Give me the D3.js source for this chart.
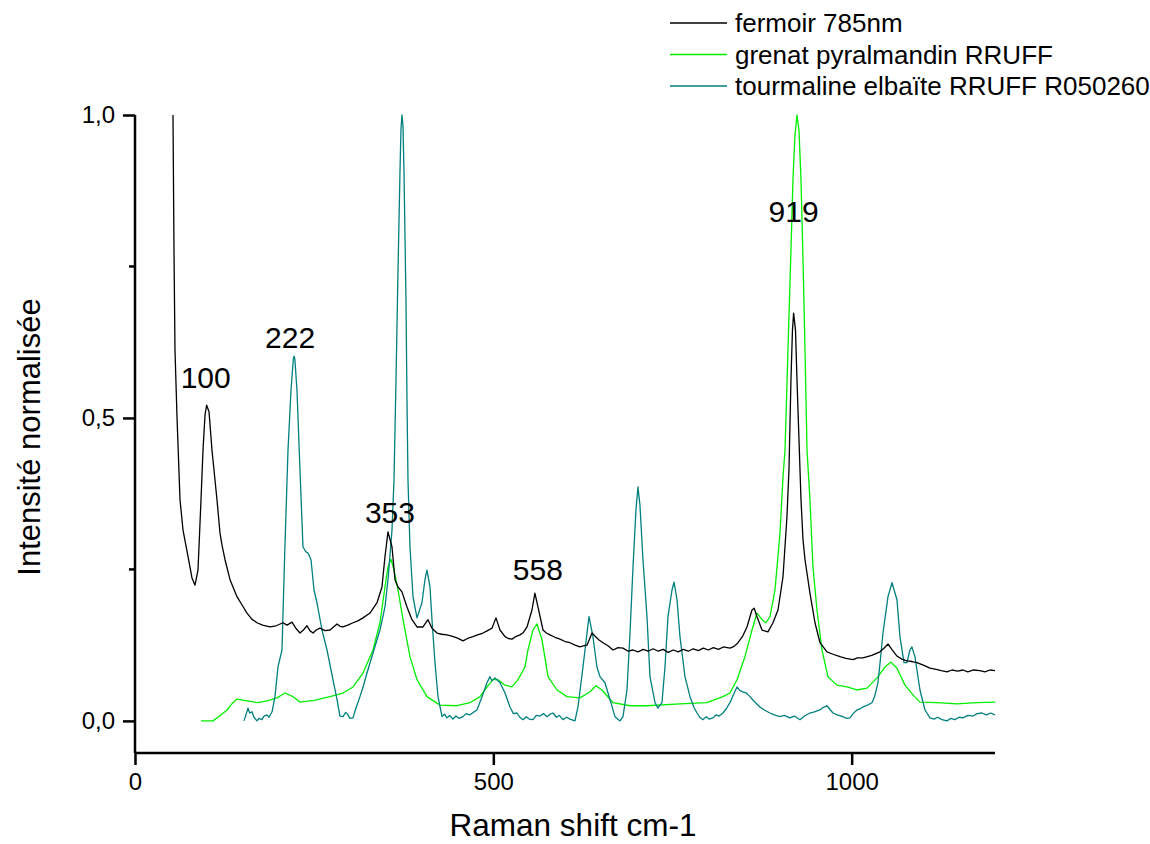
<!DOCTYPE html>
<html>
<head>
<meta charset="utf-8">
<script src="https://cdn.jsdelivr.net/npm/d3@7"></script>
<style>
  html, body { margin: 0; padding: 0; background: #fff; }
  svg { display: block; font-family: "Liberation Sans", Arial, sans-serif; }
</style>
</head>
<body>
<svg id="chart" width="1150" height="844"></svg>
<script>
// Raman spectra: wavenumber (cm-1), normalised intensity
const fermoir = [
  [53,1.0],[54.4,0.777],[55.8,0.612],[58.6,0.502],[62.8,0.365],[67,0.315],[74,0.271],[79.5,0.236],
  [83.7,0.224],[87.9,0.249],[92.1,0.365],[94.9,0.447],[97.7,0.505],[100,0.521],[103.3,0.51],
  [107.4,0.447],[114.4,0.365],[118.6,0.31],[121.4,0.29],[125.6,0.266],[132.6,0.233],[142.3,0.205],
  [150,0.19],[156.3,0.178],[163,0.168],[170.2,0.162],[178,0.158],[188.4,0.155],[197,0.157],
  [206.5,0.162],[212.1,0.158],[219.1,0.163],[225,0.152],[230.2,0.145],[235,0.15],[240,0.157],
  [244,0.149],[248.4,0.145],[253,0.15],[258.1,0.153],[265,0.149],[272.1,0.15],[281.9,0.16],
  [286,0.156],[290.2,0.155],[297,0.158],[304.2,0.162],[311,0.165],[318.1,0.17],[327.9,0.178],
  [337.7,0.195],[344.6,0.221],[348.8,0.271],[353,0.312],[358.6,0.287],[362.8,0.233],[367,0.221],
  [372.5,0.213],[379.5,0.188],[386.5,0.167],[393.5,0.155],[401.8,0.155],[408.8,0.167],[414.4,0.153],
  [421.4,0.145],[428,0.143],[435.3,0.142],[442,0.14],[449.3,0.137],[457.7,0.132],[464,0.136],
  [471.6,0.139],[478,0.142],[485.6,0.145],[492,0.149],[498.1,0.153],[503.7,0.17],[509.3,0.15],
  [516.3,0.139],[521,0.136],[526,0.135],[531,0.139],[537.2,0.142],[542,0.146],[547,0.155],
  [553.9,0.183],[558,0.211],[562.3,0.188],[569.3,0.15],[574,0.145],[579,0.142],[586,0.138],
  [593,0.135],[600,0.131],[607,0.129],[614,0.125],[620.9,0.122],[626,0.124],[630.7,0.125],
  [637.7,0.145],[641.8,0.14],[647,0.134],[653,0.129],[660,0.124],[667,0.117],[674,0.121],
  [681,0.12],[688,0.115],[695,0.117],[702,0.114],[709,0.118],[716,0.115],[723,0.119],[730,0.115],
  [737,0.118],[744,0.113],[751,0.117],[758,0.114],[765,0.118],[772,0.115],[779,0.119],[786,0.116],
  [793,0.12],[800,0.117],[807,0.121],[814,0.118],[821,0.122],[830.2,0.12],[836,0.123],[841.4,0.129],
  [848,0.14],[853.9,0.155],[860.9,0.183],[864,0.186],[867.9,0.172],[874.9,0.15],[883.2,0.147],
  [890.2,0.162],[897.2,0.183],[904.2,0.238],[909.7,0.337],[912.5,0.414],[915.3,0.563],[917.4,0.645],
  [919,0.673],[921.6,0.645],[923.7,0.563],[926.5,0.464],[929.3,0.365],[932.1,0.299],[934.9,0.266],
  [941.8,0.211],[948.8,0.162],[955.8,0.129],[965.5,0.114],[974,0.11],[983.7,0.106],[992,0.103],
  [1001.8,0.101],[1008,0.104],[1015.8,0.104],[1028,0.108],[1039.5,0.114],[1045,0.12],[1050.7,0.127],
  [1056,0.118],[1063.2,0.107],[1070,0.102],[1077.2,0.099],[1084,0.098],[1091.1,0.096],[1100,0.092],
  [1109.3,0.087],[1118,0.085],[1125,0.083],[1133,0.081],[1140,0.084],[1148,0.082],[1155.3,0.084],
  [1162,0.081],[1170,0.084],[1179,0.083],[1186,0.081],[1193,0.084],[1200,0.083]
];

const grenat = [
  [92.1,0],[108.8,0],[118,0.008],[128.4,0.018],[135,0.028],[142.3,0.036],[156.3,0.033],[171.6,0.03],
  [184.2,0.033],[198.1,0.038],[209.3,0.046],[220.5,0.04],[230.2,0.031],[250,0.034],[272.1,0.04],
  [290.2,0.046],[304.2,0.056],[318.1,0.079],[332.1,0.117],[341.8,0.162],[348.8,0.221],[353,0.254],
  [357.2,0.267],[361.4,0.249],[367,0.216],[374,0.167],[383.7,0.106],[393.5,0.068],[407.4,0.04],
  [425.6,0.026],[449.3,0.025],[467.4,0.03],[481.4,0.04],[491.1,0.056],[499.5,0.068],[506.5,0.068],
  [516.3,0.059],[526,0.056],[534.4,0.068],[544.2,0.089],[548.3,0.117],[555.3,0.15],[560.9,0.16],
  [567.9,0.134],[576.3,0.073],[588.8,0.051],[602.8,0.04],[620.9,0.038],[634.9,0.048],[643.2,0.058],
  [651.6,0.051],[667,0.03],[690.7,0.025],[714.4,0.025],[760.4,0.028],[798.1,0.03],[820.4,0.04],
  [830.2,0.046],[840,0.068],[851.1,0.106],[860.9,0.15],[867.9,0.178],[874.9,0.167],[880.4,0.162],
  [886,0.172],[893,0.216],[900,0.31],[904.2,0.403],[907,0.447],[911.1,0.612],[915.3,0.777],
  [918.1,0.893],[920.9,0.967],[923.7,1.0],[926.5,0.975],[929.3,0.893],[932.1,0.761],[934.9,0.612],
  [937.7,0.447],[941.8,0.365],[946,0.254],[951.6,0.183],[958.6,0.117],[966.9,0.073],[979.5,0.059],
  [993.4,0.056],[1007.4,0.051],[1021.4,0.054],[1035.3,0.071],[1046.5,0.089],[1054.8,0.097],
  [1063.2,0.087],[1074.4,0.059],[1085.5,0.043],[1095.3,0.031],[1119,0.03],[1146.9,0.028],
  [1174.8,0.03],[1200,0.031]
];

const tourmaline = [
  [152.1,0],[157.7,0.021],[160,0.013],[163.3,0.015],[166,0.006],[170.2,0],[173,0.004],[177.2,0.002],
  [180,0.008],[184.2,0.01],[187,0.006],[191.2,0.015],[195.3,0.04],[199.5,0.089],[205.1,0.117],
  [209,0.28],[213.5,0.447],[217.7,0.546],[221,0.598],[222,0.602],[223,0.598],[226,0.546],
  [230.2,0.414],[234.4,0.287],[238.6,0.279],[241.4,0.277],[245.6,0.266],[249.8,0.216],[253.9,0.195],
  [260.9,0.15],[267.9,0.117],[274.9,0.076],[281.9,0.035],[286,0.008],[290.2,0.007],[294,0.014],
  [297.2,0.01],[300,0.004],[304.2,0.005],[308,0.02],[313.9,0.04],[318,0.055],[323.7,0.079],
  [332.1,0.112],[341.8,0.15],[348.8,0.188],[353,0.233],[358.6,0.315],[361.4,0.398],[364.2,0.563],
  [367,0.744],[369.8,0.909],[371.1,0.975],[372.5,1.0],[373.9,0.983],[375.3,0.909],[378.1,0.695],
  [379.5,0.53],[380.9,0.398],[383.7,0.287],[387.9,0.205],[393.5,0.17],[400.4,0.195],[404.6,0.233],
  [407.4,0.249],[411.6,0.221],[414.4,0.167],[418.6,0.096],[422.8,0.04],[428.4,0.007],[432,0.011],
  [435.3,0.005],[439,0.009],[443.7,0.003],[448,0.008],[452,0.004],[457.7,0.007],[462,0.012],
  [467.4,0.01],[472,0.014],[477.2,0.018],[484.2,0.04],[491.1,0.063],[495.3,0.073],[498,0.066],
  [502.3,0.071],[509.3,0.063],[516.3,0.046],[523.2,0.023],[528,0.012],[533,0.013],[537,0.006],
  [541.4,0.002],[546,0.007],[550,0.003],[555.3,0.002],[560,0.009],[565.1,0.008],[570,0.012],
  [574.9,0.007],[579,0.011],[583.2,0.013],[588,0.006],[592,0.009],[597.2,0.002],[602,0.006],
  [607,0.003],[613.9,0],[618.1,0.023],[625.1,0.089],[630.7,0.145],[633.5,0.172],[639,0.139],
  [644.6,0.089],[648.8,0.073],[655.8,0.063],[662.8,0.035],[669.7,0.007],[676.7,0],[680.9,0.007],
  [686.5,0.051],[690.7,0.145],[694.9,0.254],[699,0.348],[701.8,0.386],[704.6,0.356],[708.8,0.266],
  [714.4,0.172],[718.6,0.073],[725.6,0.03],[729.7,0.021],[735.3,0.03],[739.5,0.089],[743.7,0.172],
  [749.3,0.216],[752.1,0.229],[756.3,0.2],[760.4,0.139],[767.4,0.073],[774.4,0.04],[780,0.022],
  [784.2,0.013],[788,0.006],[792.5,0.002],[797,0.007],[801,0.003],[806.5,0.005],[811,0.01],
  [815,0.008],[820.4,0.013],[825,0.02],[830.2,0.03],[835,0.043],[840,0.056],[844,0.05],
  [848.3,0.048],[853,0.046],[858.1,0.04],[864,0.032],[872,0.023],[878,0.018],[886,0.013],
  [892,0.01],[900,0.007],[906,0.009],[913.9,0.005],[920,0.008],[927.9,0.002],[934,0.008],
  [941.8,0.013],[948,0.015],[955.8,0.018],[960,0.022],[965.5,0.025],[969,0.02],[973.9,0.013],
  [980,0.01],[987.9,0.007],[993,0.004],[997.6,0.005],[1002,0.012],[1007.4,0.018],[1012,0.02],
  [1015.8,0.023],[1022,0.026],[1028.3,0.03],[1032,0.04],[1036.7,0.063],[1040,0.1],[1043.7,0.145],
  [1050.7,0.205],[1056.3,0.228],[1063.2,0.2],[1067.4,0.139],[1073,0.096],[1077.2,0.096],
  [1081.3,0.117],[1084.1,0.122],[1088.3,0.106],[1095.3,0.051],[1102.3,0.018],[1109.3,0.005],
  [1115,0.003],[1120,0.006],[1126,0.002],[1133,0],[1138,0.004],[1144,0.002],[1150,0.006],
  [1155.3,0.005],[1162,0.009],[1169.3,0.008],[1175,0.012],[1181.8,0.013],[1188,0.01],
  [1194,0.013],[1200,0.01]
];

const seriesNames = ["fermoir 785nm", "grenat pyralmandin RRUFF", "tourmaline elbaïte RRUFF R050260"];
const seriesColors = ["#000000", "#00f000", "#007f7f"];
const xTicks = [0, 500, 1000];
const yTicks = [0, 0.5, 1.0];
const yMinorTicks = [0.25, 0.75];
const peakLabels = [100, 222, 353, 558, 919];

const svg = d3.select("#chart");
const plotLeft = 135, plotRight = 995, plotTop = 115, plotBottom = 753;

const x = d3.scaleLinear().domain([0, 1200]).range([plotLeft, plotRight]);
const y = d3.scaleLinear().domain([-0.053, 1.0]).range([plotBottom, plotTop]);

// spectra
const line = d3.line().x(d => x(d[0])).y(d => y(d[1]));
const allSeries = [fermoir, grenat, tourmaline];
// draw order: green, teal, black on top where they overlap
[1, 2, 0].forEach(i => {
  svg.append("path")
    .datum(allSeries[i])
    .attr("fill", "none")
    .attr("stroke", seriesColors[i])
    .attr("stroke-width", 1.3)
    .attr("stroke-linejoin", "round")
    .attr("d", line);
});

// axes
const fmt = d => d3.format(".1f")(d).replace(".", ",");
const yAxis = d3.axisLeft(y).tickValues(yTicks).tickFormat(fmt).tickSize(12).tickPadding(8);
const gy = svg.append("g").attr("transform", `translate(${plotLeft},0)`).call(yAxis);
gy.select(".domain").attr("d", `M0,${plotTop}V${plotBottom}`);
gy.selectAll(".tick line").attr("stroke-width", 2.5);
gy.selectAll(".domain").attr("stroke-width", 2.5);
gy.selectAll(".tick text").attr("font-size", 24).attr("fill", "#000")
  .style("font-family", "Liberation Sans, Arial, sans-serif");
gy.selectAll(".minor").data(yMinorTicks).enter().append("line")
  .attr("x1", -6).attr("x2", 0).attr("y1", d => y(d)).attr("y2", d => y(d))
  .attr("stroke", "#000").attr("stroke-width", 2.5);

const xAxis = d3.axisBottom(x).tickValues(xTicks).tickFormat(d3.format("d")).tickSize(12).tickPadding(8);
const gx = svg.append("g").attr("transform", `translate(0,${plotBottom})`).call(xAxis);
gx.select(".domain").attr("d", `M${plotLeft},0H${plotRight}`);
gx.selectAll(".tick line").attr("stroke-width", 2.5);
gx.selectAll(".domain").attr("stroke-width", 2.5);
gx.selectAll(".tick text").attr("font-size", 24).attr("fill", "#000")
  .style("font-family", "Liberation Sans, Arial, sans-serif");

// axis titles
svg.append("text")
  .attr("x", (plotLeft + plotRight) / 2 + 8).attr("y", 836)
  .attr("text-anchor", "middle").attr("font-size", 31.5)
  .text("Raman shift cm-1");
svg.append("text")
  .attr("transform", `translate(40,${(plotTop + plotBottom) / 2 + 3}) rotate(-90)`)
  .attr("text-anchor", "middle").attr("font-size", 31)
  .text("Intensité normalisée");

// peak annotations, placed above the peak of the series that carries them
const peakSeries = [fermoir, tourmaline, fermoir, fermoir, fermoir];
const labelLift = [28, 19, 19, 24, 102];
const labelShift = [-1, -4, 2, 3, 0];
peakLabels.forEach((p, i) => {
  const pt = peakSeries[i].reduce((a, b) => Math.abs(b[0] - p) < Math.abs(a[0] - p) ? b : a);
  svg.append("text")
    .attr("x", x(p) + labelShift[i])
    .attr("y", y(pt[1]) - labelLift[i])
    .attr("dy", "0.35em")
    .attr("text-anchor", "middle")
    .attr("font-size", 30)
    .text(String(p));
});

// legend
const lg = svg.append("g").attr("transform", "translate(670,23)");
seriesNames.forEach((name, i) => {
  const row = lg.append("g").attr("transform", `translate(0,${i * 31.5})`);
  row.append("line").attr("x1", 0).attr("x2", 57).attr("y1", 0).attr("y2", 0)
    .attr("stroke", seriesColors[i]).attr("stroke-width", 1.5);
  row.append("text").attr("x", 65).attr("y", 0).attr("dy", "0.35em")
    .attr("font-size", 26).text(name);
});
</script>
</body>
</html>
